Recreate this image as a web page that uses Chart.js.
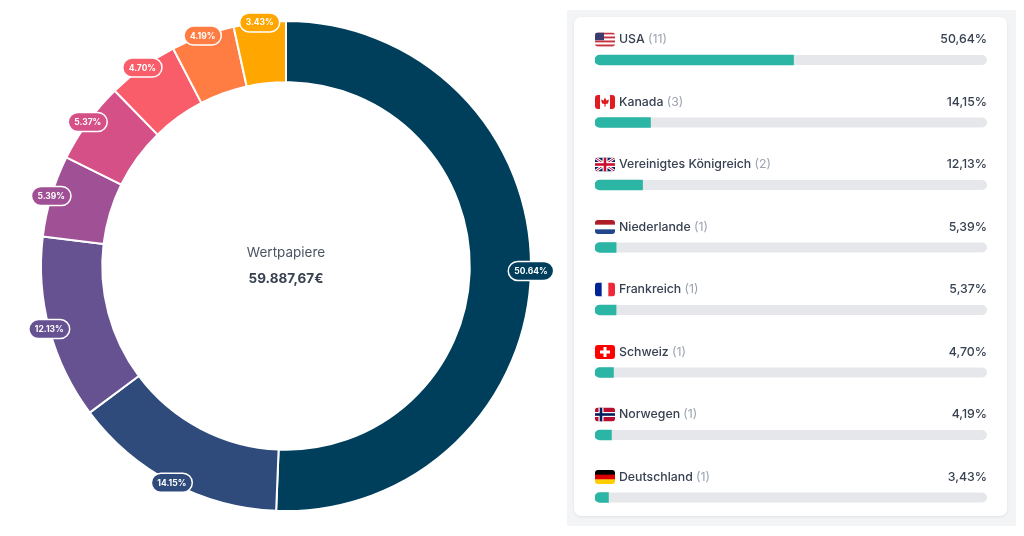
<!DOCTYPE html>
<html>
<head>
<meta charset="utf-8">
<script src="https://cdn.jsdelivr.net/npm/chart.js@4/dist/chart.umd.min.js"></script>
<style>
  html, body { margin: 0; padding: 0; background: #fff; }
  body { width: 1024px; height: 536px; position: relative; overflow: hidden; font-family: Inter, "Noto Sans", sans-serif; }
  #donutWrap { position: absolute; left: 0; top: 0; width: 560px; height: 536px; }
  #panel { position: absolute; left: 567px; top: 10px; width: 449px; height: 516px; background: #f3f4f6; }
  #card { position: absolute; left: 574px; top: 17px; width: 433px; height: 499px; background: #fff; border-radius: 7px; box-shadow: 0 1px 3px rgba(0,0,0,0.08); }
  #barsWrap { position: absolute; left: 560px; top: 0; width: 464px; height: 536px; }
</style>
</head>
<body>
<div id="donutWrap"><canvas id="donut"></canvas></div>
<div id="panel"></div>
<div id="card"></div>
<div id="barsWrap"><canvas id="bars"></canvas></div>
<script>
"use strict";
const countries = ["USA", "Kanada", "Vereinigtes Königreich", "Niederlande", "Frankreich", "Schweiz", "Norwegen", "Deutschland"];
const flagCodes = ["us", "ca", "gb", "nl", "fr", "ch", "no", "de"];
const shares = [50.64, 14.15, 12.13, 5.39, 5.37, 4.70, 4.19, 3.43];
const holdings = [11, 3, 2, 1, 1, 1, 1, 1];
const sliceColors = ["#003f5c", "#2f4b7c", "#665191", "#a05195", "#d45087", "#f95d6a", "#ff7c43", "#ffa600"];
const centerTitle = "Wertpapiere";
const centerValue = "59.887,67€";

const FONT = "Inter, 'Noto Sans', sans-serif";

function roundRect(ctx, x, y, w, h, r) {
    ctx.beginPath();
    ctx.moveTo(x + r, y);
    ctx.arcTo(x + w, y, x + w, y + h, r);
    ctx.arcTo(x + w, y + h, x, y + h, r);
    ctx.arcTo(x, y + h, x, y, r);
    ctx.arcTo(x, y, x + w, y, r);
    ctx.closePath();
}

// pill labels on the outer edge of each slice
const sliceLabels = {
    id: "sliceLabels",
    afterDatasetsDraw(chart) {
        const ctx = chart.ctx;
        const meta = chart.getDatasetMeta(0);
        ctx.save();
        ctx.font = "700 8.5px " + FONT;
        ctx.textAlign = "center";
        ctx.textBaseline = "middle";
        meta.data.forEach((arc, i) => {
            const p = arc.getProps(["x", "y", "startAngle", "endAngle", "outerRadius"], true);
            const mid = (p.startAngle + p.endAngle) / 2;
            const cx = p.x + Math.cos(mid) * p.outerRadius;
            const cy = p.y + Math.sin(mid) * p.outerRadius;
            const text = shares[i].toFixed(2) + "%";
            const w = ctx.measureText(text).width + 12;
            const h = 19;
            roundRect(ctx, cx - w / 2, cy - h / 2, w, h, h / 2);
            ctx.fillStyle = sliceColors[i];
            ctx.fill();
            ctx.lineWidth = 1.5;
            ctx.strokeStyle = "#fff";
            ctx.stroke();
            ctx.fillStyle = "#fff";
            ctx.fillText(text, cx, cy + 0.5);
        });
        ctx.restore();
    }
};

const centerText = {
    id: "centerText",
    afterDraw(chart) {
        const ctx = chart.ctx;
        const arc = chart.getDatasetMeta(0).data[0];
        const x = arc.x, y = arc.y;
        ctx.save();
        ctx.textAlign = "center";
        ctx.textBaseline = "middle";
        ctx.fillStyle = "#4b5563";
        ctx.font = "400 13.5px " + FONT;
        ctx.fillText(centerTitle, x, y - 13);
        ctx.fillStyle = "#374151";
        ctx.font = "700 13.5px " + FONT;
        ctx.fillText(centerValue, x, y + 13);
        ctx.restore();
    }
};

new Chart(document.getElementById("donut"), {
    type: "doughnut",
    data: {
        labels: countries,
        datasets: [{
            data: shares,
            backgroundColor: sliceColors,
            borderColor: "#fff",
            borderWidth: 2
        }]
    },
    options: {
        responsive: true,
        maintainAspectRatio: false,
        animation: false,
        cutout: "75%",
        layout: { padding: { left: 40, right: 28, top: 20, bottom: 24 } },
        plugins: { legend: { display: false }, tooltip: { enabled: false } }
    },
    plugins: [sliceLabels, centerText]
});

function drawFlag(ctx, code, x, y, w, h) {
    ctx.save();
    roundRect(ctx, x, y, w, h, 3);
    ctx.clip();
    const stripesH = (cols) => cols.forEach((c, i) => { ctx.fillStyle = c; ctx.fillRect(x, y + i * h / cols.length, w, h / cols.length + 0.5); });
    const stripesV = (cols) => cols.forEach((c, i) => { ctx.fillStyle = c; ctx.fillRect(x + i * w / cols.length, y, w / cols.length + 0.5, h); });
    if (code === "us") {
        for (let i = 0; i < 7; i++) {
            ctx.fillStyle = i % 2 ? "#fff" : "#c8313e";
            ctx.fillRect(x, y + i * h / 7, w, h / 7 + 0.3);
        }
        ctx.fillStyle = "#3c3b6e";
        ctx.fillRect(x, y, w * 0.45, h * 0.55);
    } else if (code === "ca") {
        ctx.fillStyle = "#fff";
        ctx.fillRect(x, y, w, h);
        ctx.fillStyle = "#e11b22";
        ctx.fillRect(x, y, w * 0.25, h);
        ctx.fillRect(x + w * 0.75, y, w * 0.25, h);
        const cx = x + w / 2, cy = y + h / 2;
        ctx.beginPath();
        ctx.moveTo(cx, cy - 4.5);
        ctx.lineTo(cx + 1.5, cy - 1.5);
        ctx.lineTo(cx + 4, cy - 2.5);
        ctx.lineTo(cx + 3, cy + 1.5);
        ctx.lineTo(cx + 0.6, cy + 2);
        ctx.lineTo(cx + 0.6, cy + 4.5);
        ctx.lineTo(cx - 0.6, cy + 4.5);
        ctx.lineTo(cx - 0.6, cy + 2);
        ctx.lineTo(cx - 3, cy + 1.5);
        ctx.lineTo(cx - 4, cy - 2.5);
        ctx.lineTo(cx - 1.5, cy - 1.5);
        ctx.closePath();
        ctx.fill();
    } else if (code === "gb") {
        ctx.fillStyle = "#012169";
        ctx.fillRect(x, y, w, h);
        ctx.strokeStyle = "#fff";
        ctx.lineWidth = 3;
        ctx.beginPath();
        ctx.moveTo(x, y); ctx.lineTo(x + w, y + h);
        ctx.moveTo(x + w, y); ctx.lineTo(x, y + h);
        ctx.stroke();
        ctx.strokeStyle = "#c8102e";
        ctx.lineWidth = 1;
        ctx.stroke();
        ctx.fillStyle = "#fff";
        ctx.fillRect(x + w / 2 - 2.5, y, 5, h);
        ctx.fillRect(x, y + h / 2 - 2.5, w, 5);
        ctx.fillStyle = "#c8102e";
        ctx.fillRect(x + w / 2 - 1.3, y, 2.6, h);
        ctx.fillRect(x, y + h / 2 - 1.3, w, 2.6);
    } else if (code === "nl") {
        stripesH(["#ae1c28", "#fff", "#21468b"]);
    } else if (code === "fr") {
        stripesV(["#002395", "#fff", "#ed2939"]);
    } else if (code === "ch") {
        ctx.fillStyle = "#ff0000";
        ctx.fillRect(x, y, w, h);
        ctx.fillStyle = "#fff";
        ctx.fillRect(x + w / 2 - 1.5, y + h / 2 - 5, 3, 10);
        ctx.fillRect(x + w / 2 - 5, y + h / 2 - 1.5, 10, 3);
    } else if (code === "no") {
        ctx.fillStyle = "#ba0c2f";
        ctx.fillRect(x, y, w, h);
        ctx.fillStyle = "#fff";
        ctx.fillRect(x + w * 0.3 - 2.5, y, 5, h);
        ctx.fillRect(x, y + h / 2 - 2.5, w, 5);
        ctx.fillStyle = "#00205b";
        ctx.fillRect(x + w * 0.3 - 1.3, y, 2.6, h);
        ctx.fillRect(x, y + h / 2 - 1.3, w, 2.6);
    } else if (code === "de") {
        stripesH(["#000", "#dd0000", "#ffce00"]);
    }
    ctx.restore();
}

// grey track behind each bar and row texts above it
const rowDecor = {
    id: "rowDecor",
    beforeDatasetsDraw(chart) {
        const ctx = chart.ctx;
        const xs = chart.scales.x, ys = chart.scales.y;
        const x0 = xs.getPixelForValue(0), x1 = xs.getPixelForValue(100);
        ctx.save();
        ctx.fillStyle = "#e5e7eb";
        countries.forEach((c, i) => {
            const y = ys.getPixelForValue(i);
            roundRect(ctx, x0, y - 5, x1 - x0, 10, 5);
            ctx.fill();
        });
        ctx.restore();
    },
    afterDatasetsDraw(chart) {
        const ctx = chart.ctx;
        const xs = chart.scales.x, ys = chart.scales.y;
        const x0 = xs.getPixelForValue(0), x1 = xs.getPixelForValue(100);
        ctx.save();
        ctx.textBaseline = "middle";
        countries.forEach((c, i) => {
            const ty = ys.getPixelForValue(i) - 20.5;
            drawFlag(ctx, flagCodes[i], x0, ty - 7, 20, 14);
            ctx.textAlign = "left";
            ctx.font = "500 12.3px " + FONT;
            ctx.fillStyle = "#374151";
            ctx.fillText(c, x0 + 24, ty);
            const nw = ctx.measureText(c + " ").width;
            ctx.font = "400 12.3px " + FONT;
            ctx.fillStyle = "#9ca3af";
            ctx.fillText("(" + holdings[i] + ")", x0 + 24 + nw, ty);
            ctx.textAlign = "right";
            ctx.font = "500 12.3px " + FONT;
            ctx.fillStyle = "#374151";
            ctx.fillText(shares[i].toFixed(2).replace(".", ",") + "%", x1, ty);
        });
        ctx.restore();
    }
};

new Chart(document.getElementById("bars"), {
    type: "bar",
    data: {
        labels: countries,
        datasets: [{
            data: shares,
            backgroundColor: "#2ab5a5",
            barThickness: 10,
            borderSkipped: false,
            borderRadius: { topLeft: 5, bottomLeft: 5, topRight: 0, bottomRight: 0 }
        }]
    },
    options: {
        indexAxis: "y",
        responsive: true,
        maintainAspectRatio: false,
        animation: false,
        layout: { padding: { left: 35, right: 37, top: 28.75, bottom: 7.25 } },
        scales: {
            x: { display: false, min: 0, max: 100 },
            y: { display: false, offset: true }
        },
        plugins: { legend: { display: false }, tooltip: { enabled: false } }
    },
    plugins: [rowDecor]
});
</script>
</body>
</html>
